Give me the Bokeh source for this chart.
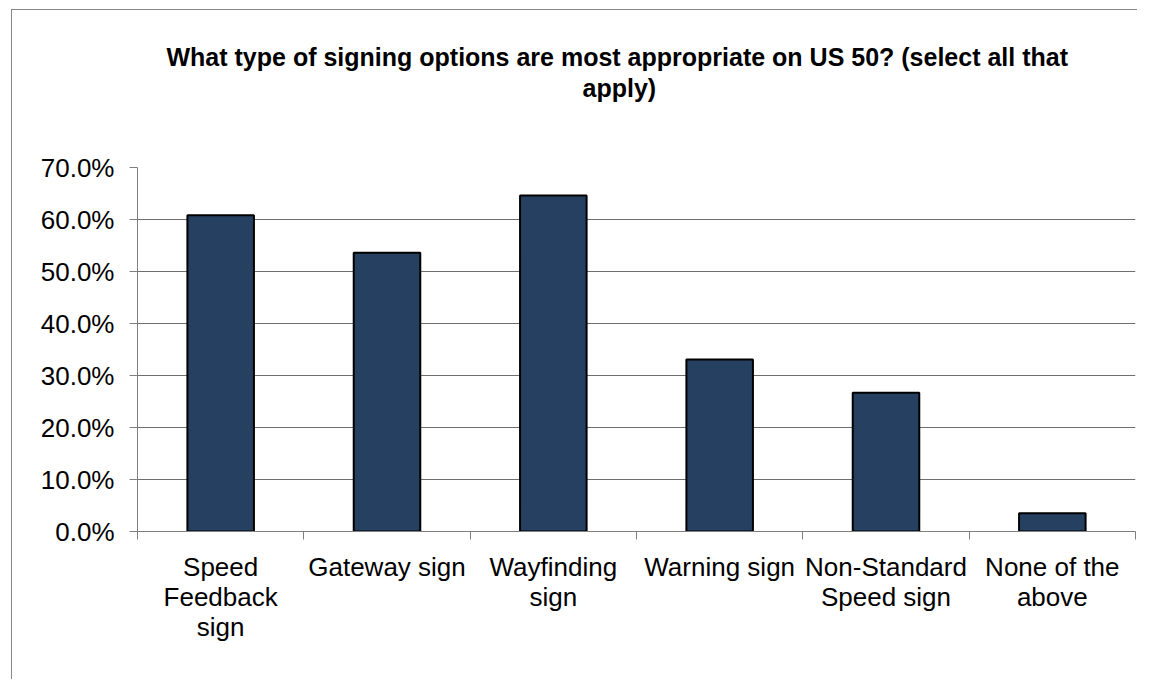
from bokeh.plotting import figure
from bokeh.models import Range1d, FixedTicker, Title
from bokeh.embed import file_html
from bokeh.resources import INLINE

categories = ["Speed Feedback sign", "Gateway sign", "Wayfinding sign",
              "Warning sign", "Non-Standard Speed sign", "None of the above"]
tick_labels = ["Speed\nFeedback\nsign", "Gateway sign", "Wayfinding\nsign",
               "Warning sign", "Non-Standard\nSpeed sign", "None of the\nabove"]
values = [60.8, 53.6, 64.6, 33.1, 26.7, 3.5]
y_ticks = [0, 10, 20, 30, 40, 50, 60, 70]
title_lines = ["What type of signing options are most appropriate on US 50? (select all that",
               "apply)"]

FONT = "Liberation Sans, Arial, sans-serif"
GRAY = "#7f7f7f"

centers = [i + 0.5 for i in range(len(categories))]
bounds = [i for i in range(len(categories) + 1)]

p = figure(width=1126, height=670, x_range=Range1d(0, len(categories)),
           y_range=Range1d(0, 70), output_backend="svg", toolbar_location=None,
           min_border_left=125, min_border_right=3, min_border_top=157,
           min_border_bottom=149)
p.styles = {"margin-left": "11px", "margin-top": "9px",
            "border-left": "1px solid #868686", "border-top": "1px solid #868686"}
p.outline_line_color = None
p.background_fill_color = "white"
p.border_fill_color = "white"

# two-line title above the plot (first layout added sits closest to the plot)
title_style = dict(text_font=FONT, text_font_style="bold", text_font_size="25px",
                   text_color="black", align="left")
spacer = Title(text=" ", standoff=36, **title_style)
t2 = Title(text=title_lines[1], standoff=0, offset=445, **title_style)
t1 = Title(text=title_lines[0], standoff=2, offset=29, **title_style)
p.add_layout(spacer, "above")
p.add_layout(t2, "above")
p.add_layout(t1, "above")

p.vbar(x=centers, top=values, width=0.4, bottom=0, fill_color="#264061",
       line_color="black", line_width=2)

# y axis
p.yaxis.ticker = FixedTicker(ticks=y_ticks, minor_ticks=[])
p.yaxis.major_label_overrides = {v: f"{v:.1f}%" for v in y_ticks}
p.yaxis.major_label_text_font = FONT
p.yaxis.major_label_text_font_size = "26px"
p.yaxis.major_label_text_color = "black"
p.yaxis.major_label_standoff = 15
p.yaxis.axis_line_color = GRAY
p.yaxis.major_tick_line_color = GRAY
p.yaxis.major_tick_out = 8
p.yaxis.major_tick_in = 0
p.yaxis.minor_tick_line_color = None

# x axis: labels at centers, ticks at boundaries (minor ticks)
p.xaxis.ticker = FixedTicker(ticks=centers, minor_ticks=bounds)
p.xaxis.major_label_overrides = {c: t for c, t in zip(centers, tick_labels)}
p.xaxis.major_label_text_font = FONT
p.xaxis.major_label_text_font_size = "26px"
p.xaxis.major_label_text_line_height = 1.0
p.xaxis.major_label_text_color = "black"
p.xaxis.major_label_standoff = 12
p.xaxis.major_tick_line_color = None
p.xaxis.major_tick_out = 8
p.xaxis.minor_tick_line_color = GRAY
p.xaxis.minor_tick_out = 8
p.xaxis.minor_tick_in = 0
p.xaxis.axis_line_color = GRAY

p.xgrid.grid_line_color = None
p.ygrid.grid_line_color = "#6e6e6e"
p.ygrid.grid_line_width = 1.2

open("out.html", "w").write(file_html(p, INLINE))
